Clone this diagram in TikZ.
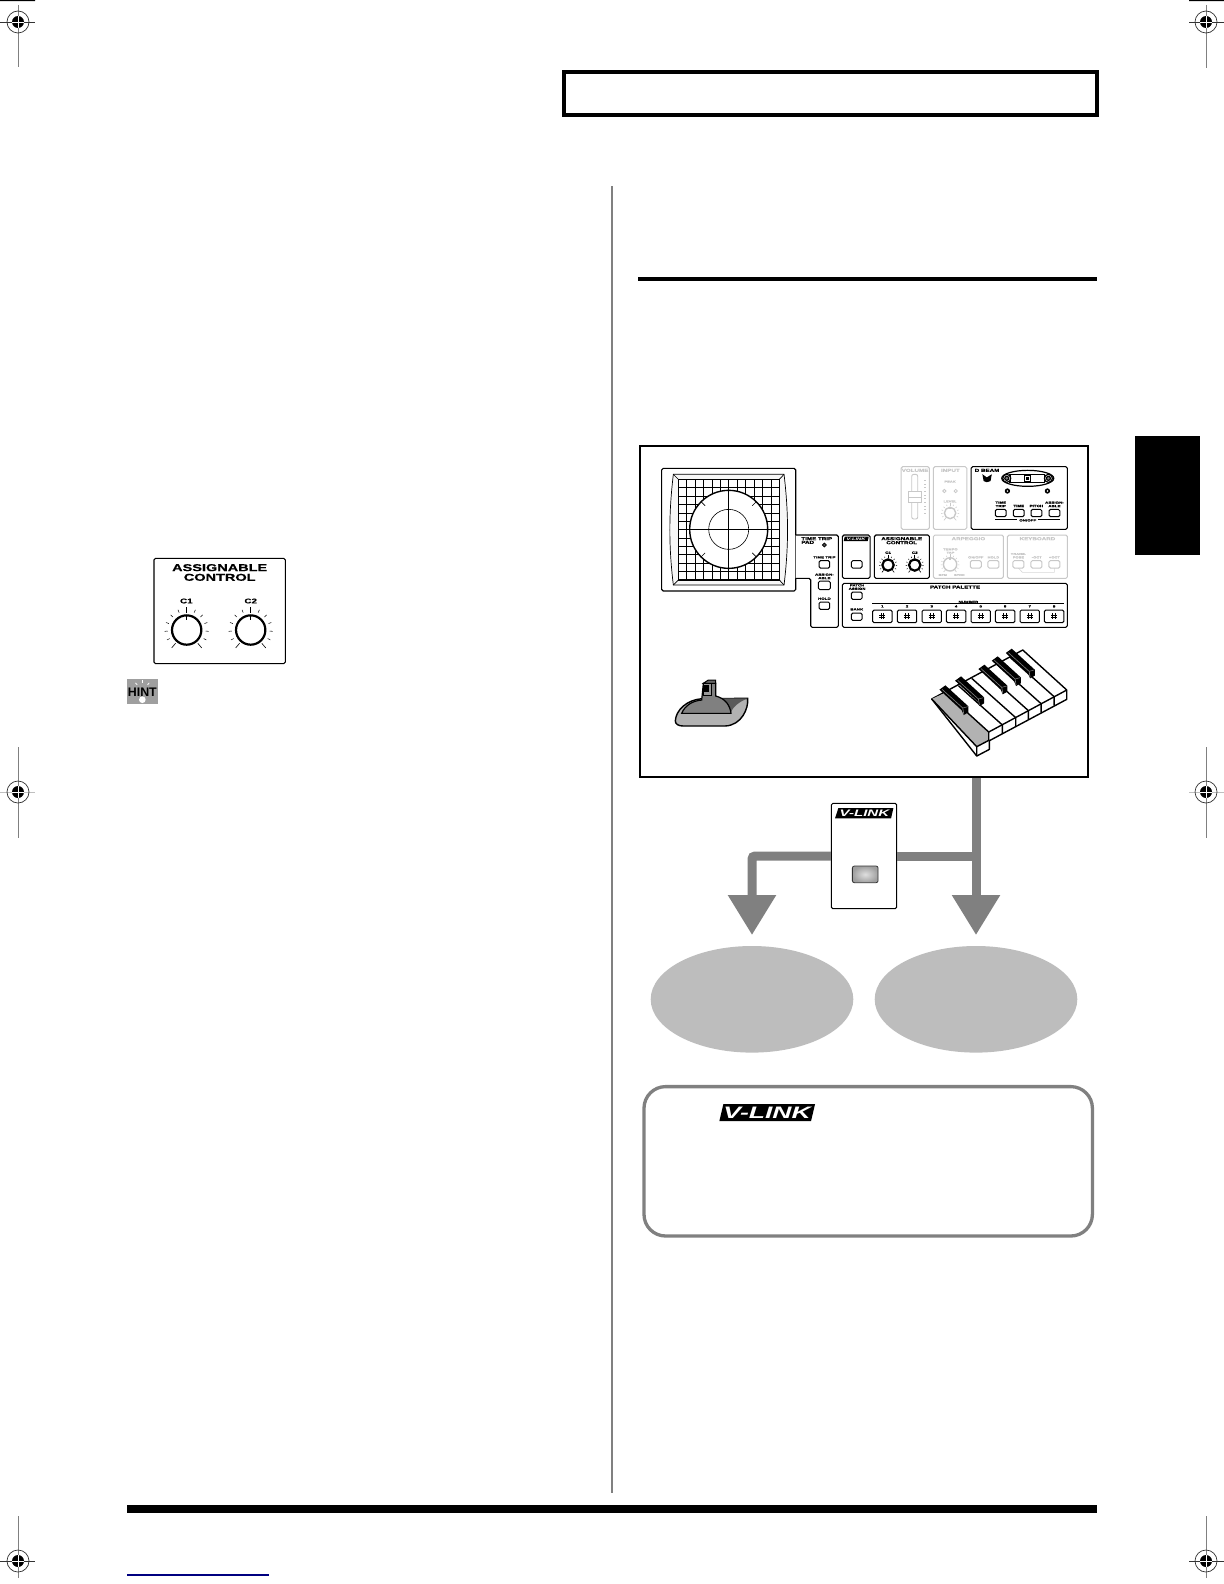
\documentclass[tikz,border=0pt]{standalone}
\usepackage{fontspec}
\setmainfont{Liberation Sans}
\newfontfamily\wf[FakeStretch=1.45,FakeBold=0.6]{Liberation Sans}
\newfontfamily\vf[FakeStretch=1.6]{Liberation Sans}
\usetikzlibrary{arrows.meta,calc,shapes.geometric}
\definecolor{flow}{HTML}{808080}
\definecolor{ell}{HTML}{BDBDBD}
\definecolor{pale}{HTML}{C8C8C8}
\newcounter{tn}
\newcommand\fs[1]{\fontsize{#1}{#1}\selectfont}
\newcommand\lab[4][]{\stepcounter{tn}\node[lbl,#1] (t\arabic{tn}) at (#2,#3) {#4};}
\newcommand\btn[5][black]{\draw[#1,line width=.5pt,rounded corners=.7pt,fill=white] ({#2-#4/2},{#3-#5/2}) rectangle ({#2+#4/2},{#3+#5/2});}
\newcommand\knob[7]{% cx cy r ri ro lw colour
  \foreach \a in {-116.67,-93.33,-70,-46.67,-23.33,23.33,46.67,70,93.33,116.67}{\draw[#7,line width=.25pt] ({#1+(#4+.35*(#5-#4))*sin(\a)},{#2-(#4+.35*(#5-#4))*cos(\a)}) -- ({#1+#5*sin(\a)},{#2-#5*cos(\a)});}
  \foreach \a in {-140,0,140}{\draw[#7,line width=.3pt] ({#1+#4*sin(\a)},{#2-#4*cos(\a)}) -- ({#1+1.06*#5*sin(\a)},{#2-1.06*#5*cos(\a)});}
  \draw[#7,line width=#6,fill=white] (#1,#2) circle (#3);
  \draw[#7,line width=.6pt] (#1,{#2-#3}) -- (#1,{#2-#3*.65});
}
\newcommand\crop[7]{% cx cy vtop vbot hleft hright hcolour
  \draw[gray,line width=.5pt] (#1,#3) -- (#1,#4);
  \draw[line width=.35pt,#7] (#5,#2) -- (#6,#2);
  \draw[line width=.35pt,black!80] (#1,#2) circle (11);
  \fill[black] (#1,#2) circle (6);
  \draw[white,line width=.4pt] ({#1-6},#2) -- ({#1+6},#2) (#1,{#2-6}) -- (#1,{#2+6});
}
\newcommand\logo[6]{% xbl xtl xtr xbr ytop ybot
  \fill[black] (#1,#6) -- (#2,#5) -- (#3,#5) -- (#4,#6) -- cycle;
}
\newcommand\bk[2]{%
  \fill[black] ($(#1,#2)+(-10,7)$) -- ++(18,-13) -- ($(#1,#2)+(77,57)$) -- ($(#1,#2)+(77,75)$) -- ($(#1,#2)+(63,83)$) -- ($(#1,#2)+(57,69)$) -- cycle;
  \draw[black!50,line width=.3pt] ($(#1,#2)+(-2,6)$) -- ($(#1,#2)+(60,62)$) -- ($(#1,#2)+(63,80)$);
  \draw[black!50,line width=.25pt] ($(#1,#2)+(60,62)$) -- ($(#1,#2)+(75,58)$);
}
\tikzset{
  lbl/.style={inner sep=0pt,outer sep=0pt,align=center,font=\wf\bfseries\fs{1.55}},
  hd/.style={font=\wf\bfseries\fs{2.15}},
  pl/.style={text=pale},
  panel/.style={draw=black,line width=.55pt,rounded corners=.8pt,fill=white},
  pal/.style={draw=pale,line width=.5pt,rounded corners=.8pt},
  shaft/.style={draw=flow,line width=4.5pt},
  tipped/.style={-{Triangle[length=20pt,width=23pt]}},
  vtext/.style={inner sep=0pt,outer sep=0pt,text=white},
  kb/.style={line width=.7pt},
}
\begin{document}
\begin{tikzpicture}[x=.5pt,y=-.5pt]
\useasboundingbox[fill=white] (0,0) rectangle (1224,1584);
% crop marks
\crop{18}{22}{5}{67}{0}{35}{black!80}
\crop{1206}{22}{5}{68}{1189}{1224}{black!80}
\crop{18}{792}{747}{838}{0}{35}{gray!50}
\crop{1206}{792}{747}{838}{1189}{1224}{gray!50}
\crop{18}{1561}{1516}{1578}{0}{35}{black!80}
\crop{1206}{1561}{1516}{1578}{1189}{1224}{black!80}
\fill[black] (0,0) rectangle (35,1.2) (1189,0) rectangle (1224,1.2);
% page furniture
\draw[line width=2pt] (564,72) rectangle (1096.5,115);
\draw[gray,line width=.9pt] (612,186) -- (612,1493);
\fill[black] (638,277) rectangle (1097,281);
\fill[black] (1135,436) rectangle (1200,555);
\fill[black] (127,1505) rectangle (1097,1513);
\draw[blue!50!black,line width=.55pt] (127,1575) -- (269,1575);

% assignable control + hint
\begin{scope}[shift={(120,545)},x=.1667pt,y=-.1667pt]
  \draw[panel] (102,40) rectangle (496,356);
  \lab[font=\wf\bfseries\fs{5}]{299}{68}{ASSIGNABLE}
  \lab[font=\wf\bfseries\fs{5}]{299}{97}{CONTROL}
  \lab[font=\wf\bfseries\fs{3.4}]{199}{168}{C1}
  \lab[font=\wf\bfseries\fs{3.4}]{392}{168}{C2}
  \knob{200}{255}{44}{52}{66}{1.1pt}{black}
  \knob{392}{255}{44}{52}{66}{1.1pt}{black}
  \fill[gray!75] (21,403) rectangle (113,477);
  \foreach \a in {-40,0,40}{\draw[white,line width=.4pt] ({67+32*sin(\a)},{438-32*cos(\a)}) -- ({67+24*sin(\a)},{438-24*cos(\a)});}
  \fill[white] (67,464) circle (10);
  \lab[font=\bfseries\fs{6.2},text=black]{67}{441}{HINT}
\end{scope}

% main box
\node[draw=black,line width=1pt,fill=white,minimum width=224pt,minimum height=165.5pt,inner sep=0pt] (mainbox) at (864,611.5) {};

\begin{scope}[shift={(640,440)},x=.1667pt,y=-.1667pt]
  % touch pad
  \draw[panel] (65,85) rectangle (467,453);
  \draw[line width=.35pt,fill=gray!6] (100,103) -- (432,103) .. controls (446,220) and (446,320) .. (432,435) -- (100,435) .. controls (86,320) and (86,220) .. (100,103) -- cycle;
  \draw[line width=.35pt] (100,103) -- (115,118) (432,103) -- (418,118) (100,435) -- (115,420) (432,435) -- (418,420);
  \draw[line width=.7pt,fill=white] (115,118) rectangle (418,420);
  \foreach \i in {1,...,11}{
    \draw[line width=.4pt] ({115+\i*25.25},118) -- ({115+\i*25.25},420);
    \draw[line width=.4pt] (115,{118+\i*25.17}) -- (418,{118+\i*25.17});
  }
  \draw[line width=.7pt,fill=white] (266,268) circle (117);
  \draw[line width=.3pt] (266,268) circle (60);
  \draw[line width=.55pt] (266,151) -- (266,385) (149,268) -- (383,268);
  \foreach \a in {45,135,225,315}{\draw[line width=.3pt] ({266+100*sin(\a)},{268-100*cos(\a)}) -- ({266+117*sin(\a)},{268-117*cos(\a)});}
  % pale groups
  \draw[pal] (783,80) rectangle (868,268);
  \draw[pal] (880,80) rectangle (980,268);
  \draw[pal] (880,285) rectangle (1090,415);
  \draw[pal] (1102,285) rectangle (1282,415);
  \lab[hd,pl]{825}{91}{VOLUME}
  \lab[hd,pl]{931}{91}{INPUT}
  \lab[pl,font=\wf\bfseries\fs{1.4}]{930}{125}{PEAK}
  \lab[pl,font=\wf\bfseries\fs{1.4}]{930}{184}{LEVEL}
  \draw[pale,line width=.45pt,rounded corners=1pt,fill=white] (815,103) rectangle (833,237);
  \draw[pale,line width=.45pt,fill=white] (805,155) rectangle (845,187) (805,171) -- (845,171);
  \foreach \i in {0,...,9}{\fill[pale] (853,{120+\i*11}) rectangle (858,{122+\i*11});}
  \draw[pale,line width=.4pt] (913,153) circle (5) (947,153) circle (5);
  \knob{930}{219}{17}{20}{27}{.7pt}{pale}
  \lab[hd,pl]{985}{296}{ARPEGGIO}
  \lab[hd,pl]{1192}{296}{KEYBOARD}
  \lab[pl,font=\wf\bfseries\fs{1.4}]{931}{333}{TEMPO\\[.3pt]TAP}
  \lab[pl,font=\wf\bfseries\fs{1.3}]{908}{405}{BPM}
  \lab[pl,font=\wf\bfseries\fs{1.3}]{958}{405}{SYNC}
  \knob{930}{373}{20}{22}{28}{.7pt}{pale}
  \lab[pl,font=\wf\bfseries\fs{1.4}]{1007}{352}{ON/OFF}
  \lab[pl,font=\wf\bfseries\fs{1.4}]{1060}{352}{HOLD}
  \btn[pale]{1007}{373}{33}{22}
  \btn[pale]{1060}{373}{33}{22}
  \lab[pl,font=\wf\bfseries\fs{1.4}]{1135}{347}{TRANS-\\[.3pt]POSE}
  \lab[pl,font=\wf\bfseries\fs{1.4}]{1190}{352}{-OCT}
  \lab[pl,font=\wf\bfseries\fs{1.4}]{1243}{352}{+OCT}
  \draw[pale!70,line width=.3pt] (1135,384) -- (1147,397) -- (1243,397) -- (1243,384);
  \btn[pale]{1135}{373}{33}{22}
  \btn[pale]{1189}{373}{33}{22}
  \btn[pale]{1243}{373}{33}{22}
  % D beam
  \draw[panel] (993,80) rectangle (1282,268);
  \lab[hd]{1041}{91}{D BEAM}
  \draw[line width=.5pt,fill=black] (1029,106) -- (1040,114) -- (1053,106) -- (1050,122) -- (1040,125) -- (1032,122) -- cycle;
  \draw[line width=.6pt] (1163,115) ellipse (78 and 24);
  \draw[line width=.6pt,fill=white] (1110,104) rectangle (1213,127);
  \draw[line width=.6pt,fill=white] (1100,115) circle (12) (1225,115) circle (12);
  \draw[line width=.6pt,fill=gray] (1100,115) circle (6) (1225,115) circle (6);
  \draw[line width=.6pt,fill=white] (1153,105) rectangle (1172,125);
  \fill[black] (1158,110) rectangle (1167,120);
  \fill[black] (1102,153) circle (8) (1222,153) circle (8);
  \fill[white] (1102,153) circle (2.5) (1222,153) circle (2.5);
  \lab{1082}{193}{TIME\\[.2pt]TRIP}
  \lab{1136}{198}{TIME}
  \lab{1189}{198}{PITCH}
  \lab{1243}{193}{ASSIGN-\\[.2pt]ABLE}
  \btn{1082}{219}{32}{22}
  \btn{1136}{219}{32}{22}
  \btn{1189}{219}{32}{22}
  \btn{1243}{219}{32}{22}
  \draw[line width=.4pt] (1065,238) -- (1260,238);
  \lab[fill=white,inner xsep=1pt]{1163}{241}{ON/OFF}
  % time trip
  \draw[panel] (467,285) -- (595,285) -- (595,562) -- (512,562) -- (512,415) -- (467,415);
  \lab[hd,anchor=west]{484}{296}{TIME\ TRIP}
  \lab[hd,anchor=west]{484}{307}{PAD}
  \draw[fill=black!70,line width=.3pt] (553,309) -- (559,315) -- (553,321) -- (547,315) -- cycle;
  \lab{553}{352}{TIME TRIP}
  \btn{553}{373}{32}{22}
  \lab{553}{409}{ASSIGN-\\[.2pt]ABLE}
  \btn{553}{436}{36}{25}
  \lab{553}{476}{HOLD}
  \btn{553}{497}{32}{22}
  % v-link small
  \draw[panel] (607,285) rectangle (690,415);
  \logo{611}{614}{686}{683}{290}{303}
  \node[vtext,font=\vf\bfseries\itshape\fs{1.8}] (vsmall) at (648,296.5) {V-LINK};
  \btn{650}{373}{32}{22}
  % assignable small
  \draw[panel] (703,285) rectangle (868,415);
  \lab[hd]{785}{296}{ASSIGNABLE}
  \lab[hd]{785}{308}{CONTROL}
  \lab{744}{338}{C1}
  \lab{824}{338}{C2}
  \knob{744}{375}{17}{21}{27}{1.1pt}{black}
  \knob{824}{375}{17}{21}{27}{1.1pt}{black}
  % patch palette
  \draw[panel] (607,430) rectangle (1282,562);
  \lab[font=\wf\bfseries\fs{1.5}]{651}{441}{PATCH\\[.2pt]ASSIGN}
  \btn{650}{467}{32}{22}
  \lab{650}{508}{BANK}
  \btn{650}{530}{32}{22}
  \lab[hd]{945}{441}{PATCH PALETTE}
  \draw[line width=.4pt] (697,490) -- (1272,490);
  \lab[fill=white,inner xsep=1pt]{985}{486}{NUMBER}
  \foreach \n/\x in {1/727,2/801,3/875,4/948,5/1022,6/1095,7/1169,8/1242}{
    \lab{\x}{499}{\n}
    \btn{\x}{529}{58}{38}
    \draw[line width=.35pt] ({\x-9},525) -- ({\x+9},525) ({\x-9},533) -- ({\x+9},533) ({\x-4},520) -- ({\x-4},538) ({\x+4},520) -- ({\x+4},538);
  }
\end{scope}

% expression pedal and keyboard
\begin{scope}[shift={(650,650)},x=.1667pt,y=-.1667pt]
  \draw[line width=.7pt,fill=gray!60] (76,212) .. controls (78,180) and (110,150) .. (155,146) -- (293,145) .. controls (296,175) and (275,226) .. (225,228) -- (100,228) .. controls (85,228) and (75,222) .. (76,212) -- cycle;
  \fill[black!65] (215,145) -- (293,145) .. controls (280,150) and (250,165) .. (243,187) .. controls (238,165) and (225,155) .. (215,145) -- cycle;
  \draw[line width=.6pt,fill=gray] (95,190) .. controls (105,165) and (130,152) .. (155,150) -- (160,100) -- (197,100) -- (197,138) .. controls (225,145) and (240,165) .. (243,190) -- cycle;
  \draw[line width=.5pt,fill=black!60] (160,100) -- (175,90) -- (197,90) -- (197,100) -- (183,100) -- cycle;
  \draw[line width=.3pt,fill=gray!80] (160,100) rectangle (183,135);
  \fill[black] (163,105) rectangle (177,125);

  \draw[kb,fill=white,line join=round] (845,147) -- (1118,0) -- (1250,120) -- (1250,148) -- (1018,272) -- (1018,298) -- (980,318) -- cycle;
  \fill[gray!60] (845,147) -- (886,128) -- (1016,246) -- (1016,270) -- (980,290) -- cycle;
  \draw[kb] (845,147) -- (980,290) -- (980,318) (980,290) -- (1018,270);
  \draw[kb] (886,128) -- (1016,246) -- (1016,272);
  \draw[kb] (1016,246) -- (1250,120);
  \foreach \x/\y in {1212/140,1173/161,1135/182,1097/203,1057/225}{
    \draw[kb] (\x,\y) -- ++(-132,-118) (\x,\y) -- ++(0,27);
  }
  \bk{878}{112}
  \bk{925}{85}
  \bk{995}{50}
  \bk{1035}{25}
  \bk{1077}{2}
\end{scope}

% lower diagram
\node[draw=black,line width=.5pt,rounded corners=.8pt,fill=white,minimum width=32.7pt,minimum height=52.7pt,inner sep=0pt] (vlink) at (864,856) {};
\coordinate (tipR) at (976,935);
\coordinate (tipL) at (752,935);
\draw[shaft,tipped] (mainbox.south -| tipR) -- (tipR);
\draw[shaft] (vlink.east) -- (vlink.east -| tipR);
\draw[shaft,tipped,rounded corners=1.5pt] (vlink.west) -| (tipL);
\node[draw=none,fill=ell,minimum width=101.3pt,minimum height=53.3pt,shape=ellipse,inner sep=0pt] (ellL) at (752,999.3) {};
\node[draw=none,fill=ell,minimum width=101.3pt,minimum height=53.3pt,shape=ellipse,inner sep=0pt] (ellR) at (976,999.3) {};

\begin{scope}[shift={(630,780)},x=.1667pt,y=-.1667pt]
  \logo{615}{625}{790}{783}{84}{115}
  \node[vtext,font=\vf\bfseries\itshape\fs{4.7}] (vmid) at (703,99.5) {V-LINK};
  \shadedraw[inner color=gray!25,outer color=gray!75,draw=black!80,line width=.4pt,rounded corners=1pt] (667,258) rectangle (744,308);
\end{scope}

\node[draw=flow,line width=1.65pt,rounded corners=10.8pt,minimum width=224.2pt,minimum height=74.7pt,inner sep=0pt] (notebox) at (868.2,1161.3) {};
\begin{scope}[shift={(630,780)},x=.1667pt,y=-.1667pt]
  \logo{268}{280}{555}{543}{972}{1023}
  \node[vtext,font=\vf\bfseries\itshape\fs{8.3}] (vnote) at (411,998) {V-LINK};
\end{scope}
\end{tikzpicture}
\end{document}
